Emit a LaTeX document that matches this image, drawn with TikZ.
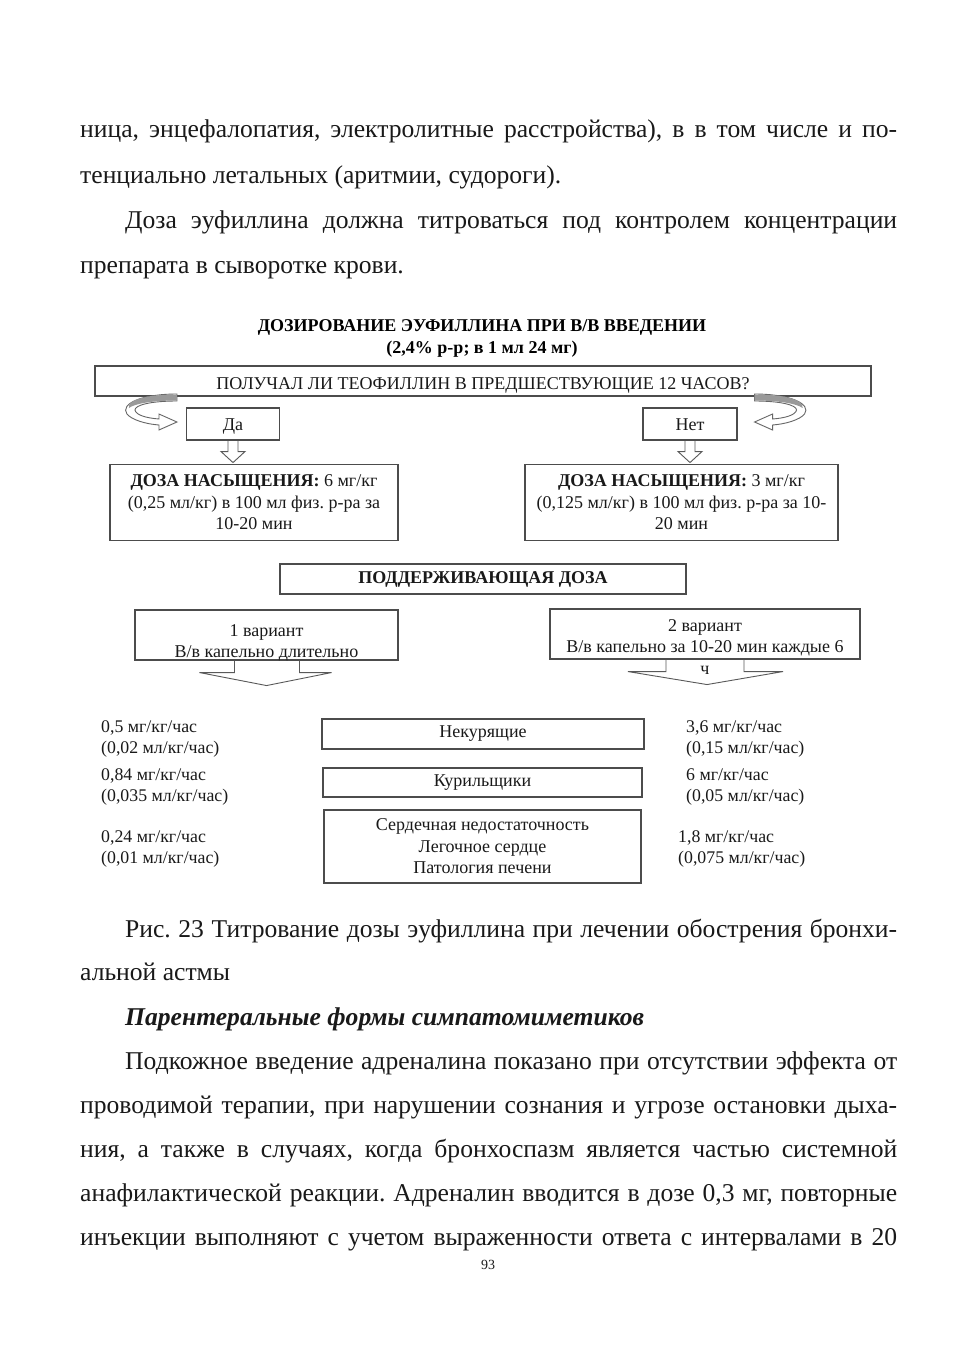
\documentclass[tikz,border=0pt]{standalone}
\usepackage{fontspec}
\setmainfont{Liberation Serif}
\usetikzlibrary{positioning}
\frenchspacing

\newcommand{\bodysize}{\fontsize{25.6}{44}\selectfont}
\newcommand{\boxsize}{\fontsize{18}{21.5}\selectfont}
\newcommand{\valsize}{\fontsize{17.8}{21}\selectfont}
\newcommand{\fillline}[2]{\makebox[#1pt][s]{#2}}
\newcommand{\topbox}[4]{\parbox[c][#2pt][t]{#1pt}{\centering\rule{0pt}{#3pt}#4}}

\tikzset{
  textline/.style={anchor=base west, inner sep=0pt, font=\bodysize, text=black!90},
  frame/.style={draw=black!70, line width=1.1pt, inner sep=0pt, align=center, font=\boxsize, text=black!90},
  val/.style={anchor=west, inner sep=0pt, align=left, font=\valsize, text=black!90},
  hollow/.style={draw=black!65, line width=0.9pt},
  band/.style={draw=black!60, line width=0.9pt, fill=white},
}

\begin{document}
\begin{tikzpicture}[x=1pt, y=-1pt]
\useasboundingbox (0,0) rectangle (953,1350);
\fill[white] (0,0) rectangle (953,1350);

% text above the scheme
\node[textline] (p1) at (80,137) {\fillline{817}{ница, энцефалопатия, электролитные расстройства), в в том числе и по-}};
\node[textline] (p2) at (80,183) {тенциально летальных (аритмии, судороги).};
\node[textline] (p3) at (125,228) {\fillline{772}{Доза эуфиллина должна титроваться под контролем концентрации}};
\node[textline] (p4) at (80,273) {препарата в сыворотке крови.};

% title
\node[inner sep=0pt, anchor=base, font=\boxsize\bfseries] (title1) at (482,331) {ДОЗИРОВАНИЕ ЭУФИЛЛИНА ПРИ В/В ВВЕДЕНИИ};
\node[inner sep=0pt, anchor=base, font=\boxsize\bfseries] (title2) at (482,353) {(2,4\% р-р; в 1 мл 24 мг)};

% question and answers
\node[frame] (ask) at (483,381) {\topbox{776}{30}{23}{ПОЛУЧАЛ ЛИ ТЕОФИЛЛИН В ПРЕДШЕСТВУЮЩИЕ 12 ЧАСОВ?}};
\node[frame, minimum width=93, minimum height=32, text height=12, text depth=0] (da) at (233,424) {Да};
\node[frame, minimum width=94, minimum height=32, text height=12, text depth=0] (net) at (690,424) {Нет};

% curved arrows
\begin{scope}[shift={(da.west)}]
  \draw[band] (-9,-30) .. controls (-45,-30) and (-66,-20) .. (-59,-10)
    .. controls (-54,-4) and (-40,0) .. (-27,1) -- (-27,6) -- (-9,-2) -- (-27,-10) -- (-27,-5)
    .. controls (-40,-6) and (-50,-9) .. (-51,-14) .. controls (-51,-19) and (-35,-23) .. (-9,-23) -- cycle;
  \fill[black!40] (-9,-29.5) .. controls (-40,-29.5) and (-59,-24) .. (-57,-16)
    .. controls (-52,-20) and (-35,-23.5) .. (-9,-23.5) -- cycle;
\end{scope}
\begin{scope}[shift={(net.east)}, xshift=8, xscale=-1]
  \draw[band] (-9,-30) .. controls (-45,-30) and (-66,-20) .. (-59,-10)
    .. controls (-54,-4) and (-40,0) .. (-27,1) -- (-27,6) -- (-9,-2) -- (-27,-10) -- (-27,-5)
    .. controls (-40,-6) and (-50,-9) .. (-51,-14) .. controls (-51,-19) and (-35,-23) .. (-9,-23) -- cycle;
  \fill[black!40] (-9,-29.5) .. controls (-40,-29.5) and (-59,-24) .. (-57,-16)
    .. controls (-52,-20) and (-35,-23.5) .. (-9,-23.5) -- cycle;
\end{scope}

% loading doses
\node[frame, minimum width=288, minimum height=76] (load1) at (254,502.5) {\textbf{ДОЗА НАСЫЩЕНИЯ:} 6 мг/кг\\(0,25 мл/кг) в 100 мл физ. р-ра за\\10-20 мин};
\node[frame, minimum width=313, minimum height=76] (load2) at (681.5,502.5) {\textbf{ДОЗА НАСЫЩЕНИЯ:} 3 мг/кг\\(0,125 мл/кг) в 100 мл физ. р-ра за 10-\\20 мин};
\draw[hollow] (da.south) ++(-5,0) -- ++(0,11) -- ++(-7,0) -- ++(12,11) -- ++(12,-11) -- ++(-7,0) -- ++(0,-11);
\draw[hollow] (net.south) ++(-5,0) -- ++(0,11) -- ++(-7,0) -- ++(12,11) -- ++(12,-11) -- ++(-7,0) -- ++(0,-11);

% maintenance dose
\node[frame, font=\boxsize\bfseries, minimum width=406, minimum height=30] (keep) at (483,579) {ПОДДЕРЖИВАЮЩАЯ ДОЗА};
\node[frame] (var1) at (266.5,635) {\topbox{263}{50}{26}{1 вариант\\В/в капельно длительно}};
\node[frame] (var2) at (705,634) {\topbox{310}{50}{22}{2 вариант\\В/в капельно за 10-20 мин каждые 6\\ч}};
\draw[hollow] (var1.south) ++(-32,0) -- ++(0,12) -- ++(-35,0) -- ++(67,13) -- ++(65,-13) -- ++(-32,0) -- ++(0,-12);
\draw[hollow] (var2.south) ++(-39,0) -- ++(0,12) -- ++(-38,0) -- ++(79,13) -- ++(76,-13) -- ++(-39,0) -- ++(0,-12);

% patient groups
\node[frame, minimum width=322, minimum height=30] (nonsmk) at (483,734) {Некурящие};
\node[frame, minimum width=319, minimum height=29] (smk) at (482.5,782.5) {Курильщики};
\node[frame, minimum width=317, minimum height=73] (organs) at (482.5,846.5) {Сердечная недостаточность\\Легочное сердце\\Патология печени};

\node[val] (v1a) at (101,739) {0,5 мг/кг/час\\(0,02 мл/кг/час)};
\node[val] (v1b) at (101,786.5) {0,84 мг/кг/час\\(0,035 мл/кг/час)};
\node[val] (v1c) at (101,848.5) {0,24 мг/кг/час\\(0,01 мл/кг/час)};
\node[val] (v2a) at (686,739) {3,6 мг/кг/час\\(0,15 мл/кг/час)};
\node[val] (v2b) at (686,786.5) {6 мг/кг/час\\(0,05 мл/кг/час)};
\node[val] (v2c) at (678,848.5) {1,8 мг/кг/час\\(0,075 мл/кг/час)};

% text below the scheme
\node[textline] (c1) at (125,937) {\fillline{772}{Рис. 23 Титрование дозы эуфиллина при лечении обострения бронхи-}};
\node[textline] (c2) at (80,980) {альной астмы};
\node[textline, font=\bodysize\bfseries\itshape] (h1) at (125,1025) {Парентеральные формы симпатомиметиков};
\node[textline] (q1) at (125,1069) {\fillline{772}{Подкожное введение адреналина показано при отсутствии эффекта от}};
\node[textline] (q2) at (80,1113) {\fillline{817}{проводимой терапии, при нарушении сознания и угрозе остановки дыха-}};
\node[textline] (q3) at (80,1157) {\fillline{817}{ния, а также в случаях, когда бронхоспазм является частью системной}};
\node[textline] (q4) at (80,1201) {\fillline{817}{анафилактической реакции. Адреналин вводится в дозе 0,3 мг, повторные}};
\node[textline] (q5) at (80,1245) {\fillline{817}{инъекции выполняют с учетом выраженности ответа с интервалами в 20}};
\node[inner sep=0pt, font=\fontsize{14}{16}\selectfont, text=black!90] (pgnum) at (488,1265) {93};
\end{tikzpicture}
\end{document}
